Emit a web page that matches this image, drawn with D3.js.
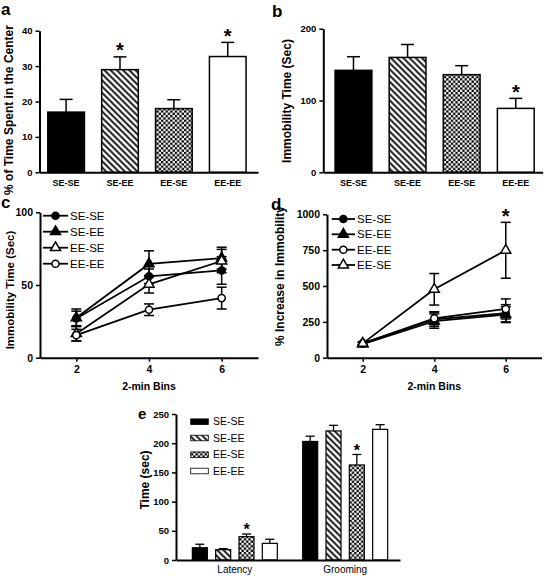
<!DOCTYPE html>
<html><head><meta charset="utf-8">
<script src="https://cdn.jsdelivr.net/npm/d3@7"></script>
<style>body{margin:0;background:#fff} text{font-family:"Liberation Sans",Arial,sans-serif;fill:#000}</style>
</head><body><svg id="c" width="545" height="576"></svg>
<script>
// ---------- data ----------
const groups = ["SE-SE","SE-EE","EE-SE","EE-EE"];
// panel a
const centerTime = [17, 29, 18, 32.7];
const centerErr = [3.6, 3.6, 2.5, 4.0];
const centerSig = [false, true, false, true];
const centerTicks = [0,10,20,30,40];
// panel b
const immobility = [142, 160, 136, 89];
const immobilityErr = [19, 18, 12.5, 14];
const immobilitySig = [false, false, false, true];
const immobilityTicks = [0,100,200];
// panel c
const bins = [2,4,6];
const binSeriesC = ["SE-SE","SE-EE","EE-SE","EE-EE"];
const binTimeC = [[27,56,60],[27.5,64.5,68.5],[16.5,50.5,66.5],[15.5,33,41]];
const binErrC  = [[5,5,9.5],[6,9,7.5],[5,6,8],[4,4,7.5]];
const binTicksC = [0,50,100];
// panel d
const binSeriesD = ["SE-SE","SE-EE","EE-EE","EE-SE"];
const increaseD = [[100,268,310],[95,255,300],[100,275,340],[100,477,749]];
const increaseErrD = [[10,50,60],[10,50,55],[10,45,70],[10,110,195]];
const increaseSigD = [[false,false,false],[false,false,false],[false,false,false],[false,false,true]];
const binTicksD = [0,250,500,750,1000];
// panel e
const measures = ["Latency","Grooming"];
const latency = [21, 17.7, 40, 28.5];
const latencyErr = [6, 1.7, 4.5, 7];
const grooming = [203, 221, 162.7, 223.7];
const groomingErr = [9, 9.6, 18, 8];
const latencySig = [false,false,true,false];
const groomingSig = [false,false,true,false];
const timeTicks = [0,50,100,150,200,250];

// ---------- setup ----------
const svg = d3.select("#c");
const defs = svg.append("defs");
const hp = defs.append("pattern").attr("id","hatch").attr("patternUnits","userSpaceOnUse")
  .attr("width",4.4).attr("height",4.4).attr("patternTransform","rotate(-45)");
hp.append("rect").attr("width",4.4).attr("height",4.4).attr("fill","#fff");
hp.append("line").attr("x1",2.2).attr("x2",2.2).attr("y1",0).attr("y2",4.4).attr("stroke","#000").attr("stroke-width",1.8);
const cp = defs.append("pattern").attr("id","check").attr("patternUnits","userSpaceOnUse")
  .attr("width",4.6).attr("height",4.6);
cp.append("rect").attr("width",4.6).attr("height",4.6).attr("fill","#fff");
cp.append("rect").attr("width",2.3).attr("height",2.3).attr("fill","#000");
cp.append("rect").attr("x",2.3).attr("y",2.3).attr("width",2.3).attr("height",2.3).attr("fill","#000");
const fills = ["#000","url(#hatch)","url(#check)","#fff"];

function styleAxis(g, fs, bold){
  g.select(".domain").attr("stroke","#000").attr("stroke-width",2);
  g.selectAll(".tick line").attr("stroke","#000").attr("stroke-width",1.5);
  g.selectAll(".tick text").attr("font-size",fs).attr("font-weight",bold?"bold":"normal")
    .attr("font-family","Liberation Sans, Arial, sans-serif").attr("fill","#000");
}
function star(g, x, yTop, gap, fs){
  g.append("text").attr("x",x).attr("y",yTop-gap+0.58*fs).attr("text-anchor","middle")
   .attr("font-size",fs).attr("font-weight","bold").text("*");
}
function vlabel(x, y, txt, fs){
  svg.append("text").attr("transform",`translate(${x},${y}) rotate(-90)`).attr("text-anchor","middle")
    .attr("dy","0.35em").attr("font-size",fs).attr("font-weight","bold").text(txt);
}
function plabel(x, y, txt, fs){
  svg.append("text").attr("x",x).attr("y",y).attr("font-size",fs).attr("font-weight","bold").text(txt);
}

// ---------- bar panels a, b ----------
function barPanel(o){
  const g = svg.append("g");
  const x = d3.scaleBand().domain(groups).range(o.xr).paddingInner(0.32).paddingOuter(0.1877).align(o.align);
  const y = d3.scaleLinear().domain(o.yd).range(o.yr);
  groups.forEach((k,i)=>{
    const cx = x(k)+x.bandwidth()/2, yt = y(o.vals[i]+o.errs[i]);
    g.append("line").attr("x1",cx).attr("x2",cx).attr("y1",y(o.vals[i])).attr("y2",yt).attr("stroke","#000").attr("stroke-width",1.5);
    g.append("line").attr("x1",cx-6.5).attr("x2",cx+6.5).attr("y1",yt).attr("y2",yt).attr("stroke","#000").attr("stroke-width",1.5);
    if(o.sig[i]) star(g, cx, yt, 11, 20);
  });
  g.selectAll("rect.bar").data(o.vals).join("rect").attr("class","bar")
    .attr("x",(d,i)=>x(groups[i])).attr("width",x.bandwidth())
    .attr("y",d=>y(d)).attr("height",d=>y(0)-y(d))
    .attr("fill",(d,i)=>fills[i]).attr("stroke","#000").attr("stroke-width",1.5);
  const ya = g.append("g").attr("transform",`translate(${o.xr[0]},0)`)
    .call(d3.axisLeft(y).tickValues(o.ticks).tickSize(4).tickSizeOuter(0).tickPadding(3).tickFormat(d3.format("d")));
  styleAxis(ya, 9.5, true);
  const xa = g.append("g").attr("transform",`translate(0,${o.yr[0]})`)
    .call(d3.axisBottom(x).tickSize(0).tickSizeOuter(0).tickPadding(7.5));
  styleAxis(xa, 9, true);
}
barPanel({xr:[39.5,258], align:0.41, yd:[0,40], yr:[172.3,30.7], vals:centerTime, errs:centerErr, sig:centerSig, ticks:centerTicks});
barPanel({xr:[323.3,542.7], align:0.58, yd:[0,200], yr:[172.3,28.7], vals:immobility, errs:immobilityErr, sig:immobilitySig, ticks:immobilityTicks});
plabel(1,15,"a",17); plabel(272,17,"b",17);
vlabel(9,110,"% of Time Spent in the Center",12);
vlabel(287,101,"Immobility Time (Sec)",12);

// ---------- line panels c, d ----------
const symFor = {"SE-SE":[d3.symbolCircle,true],"SE-EE":[d3.symbolTriangle,true],"EE-SE":[d3.symbolTriangle,false],"EE-EE":[d3.symbolCircle,false]};
function marker(g, name, cx, cy){
  const [t, filled] = symFor[name];
  g.append("path").attr("d", d3.symbol().type(t).size(t===d3.symbolCircle?40:44)())
    .attr("transform",`translate(${cx},${cy})`)
    .attr("fill", filled?"#000":"#fff").attr("stroke","#000").attr("stroke-width",1.5);
}
function linePanel(o){
  const g = svg.append("g");
  const x = d3.scaleLinear().domain([1,7]).range(o.xr);
  const y = d3.scaleLinear().domain(o.yd).range(o.yr);
  const line = d3.line().x((d,i)=>x(bins[i])).y(d=>y(d));
  o.vals.forEach(v=>{
    g.append("path").attr("d",line(v)).attr("fill","none").attr("stroke","#000").attr("stroke-width",1.8);
  });
  o.vals.forEach((v,s)=>{
    v.forEach((d,i)=>{
      const cx = x(bins[i]), e = o.errs[s][i];
      g.append("line").attr("x1",cx).attr("x2",cx).attr("y1",y(d-e)).attr("y2",y(d+e)).attr("stroke","#000").attr("stroke-width",1.5);
      [d-e,d+e].forEach(w=>g.append("line").attr("x1",cx-5).attr("x2",cx+5).attr("y1",y(w)).attr("y2",y(w)).attr("stroke","#000").attr("stroke-width",1.5));
      if(o.sig && o.sig[s][i]) star(g, cx, y(d+e), 11, 20);
    });
  });
  o.vals.forEach((v,s)=>v.forEach((d,i)=>marker(g, o.names[s], x(bins[i]), y(d))));
  const ya = g.append("g").attr("transform",`translate(${o.xr[0]},0)`)
    .call(d3.axisLeft(y).tickValues(o.ticks).tickSize(4).tickSizeOuter(0).tickPadding(3).tickFormat(d3.format("d")));
  styleAxis(ya, 10.5, true);
  const xa = g.append("g").attr("transform",`translate(0,${o.yr[0]})`)
    .call(d3.axisBottom(x).tickValues(bins).tickSize(4).tickSizeOuter(0).tickPadding(4).tickFormat(d3.format("d")));
  styleAxis(xa, 10.5, true);
  o.names.forEach((n,i)=>{
    const ly = o.ly[i];
    g.append("line").attr("x1",o.lx[0]).attr("x2",o.lx[1]).attr("y1",ly).attr("y2",ly).attr("stroke","#000").attr("stroke-width",1.8);
    marker(g, n, (o.lx[0]+o.lx[1])/2, ly);
    g.append("text").attr("x",o.lx[1]+2).attr("y",ly).attr("dy","0.35em").attr("font-size",11.5).text(n);
  });
  g.append("text").attr("x",(x(2)+x(6))/2).attr("y",o.yr[0]+29).attr("dy","0.35em").attr("text-anchor","middle")
    .attr("font-size",10.5).attr("font-weight","bold").text("2-min Bins");
}
linePanel({xr:[40,258], yd:[0,100], yr:[357.7,212.3], vals:binTimeC, errs:binErrC, names:binSeriesC, ticks:binTicksC,
  lx:[43,68], ly:[215.7,231.7,247.7,263.7]});
linePanel({xr:[327,541.5], yd:[0,1000], yr:[357.7,214.3], vals:increaseD, errs:increaseErrD, sig:increaseSigD, names:binSeriesD, ticks:binTicksD,
  lx:[331.7,355], ly:[219,234.3,249.7,265]});
plabel(1,208,"c",17); plabel(271,210,"d",17);
vlabel(10,290,"Immobility Time (Sec)",11.5);
vlabel(280,276,"% Increase in Immobility",12);

// ---------- panel e ----------
(function(){
  const g = svg.append("g");
  const x0 = d3.scaleBand().domain(measures).range([176,400]).paddingInner(0.23).paddingOuter(0.13).align(0.57);
  const x1 = d3.scaleBand().domain(groups).range([0,x0.bandwidth()]).paddingInner(0.357).paddingOuter(0);
  const y = d3.scaleLinear().domain([0,250]).range([560,414]);
  const vals = [latency, grooming], errs = [latencyErr, groomingErr], sigs = [latencySig, groomingSig];
  measures.forEach((m,mi)=>{
    groups.forEach((k,i)=>{
      const bx = x0(m)+x1(k), cx = bx + x1.bandwidth()/2;
      const v = vals[mi][i], yt = y(v+errs[mi][i]);
      g.append("line").attr("x1",cx).attr("x2",cx).attr("y1",y(v)).attr("y2",yt).attr("stroke","#000").attr("stroke-width",1.3);
      g.append("line").attr("x1",cx-4.5).attr("x2",cx+4.5).attr("y1",yt).attr("y2",yt).attr("stroke","#000").attr("stroke-width",1.3);
      g.append("rect").attr("x",bx).attr("width",x1.bandwidth()).attr("y",y(v)).attr("height",y(0)-y(v))
        .attr("fill",fills[i]).attr("stroke","#000").attr("stroke-width",1.2);
      if(sigs[mi][i]) star(g, cx, yt, 8, 16);
    });
  });
  const ya = g.append("g").attr("transform","translate(176,0)")
    .call(d3.axisLeft(y).tickValues(timeTicks).tickSize(4).tickSizeOuter(0).tickPadding(3).tickFormat(d3.format("d")));
  styleAxis(ya, 9.5, true);
  const xa = g.append("g").attr("transform","translate(0,560)")
    .call(d3.axisBottom(x0).tickSize(0).tickSizeOuter(0).tickPadding(6));
  styleAxis(xa, 10, false);
  groups.forEach((k,i)=>{
    const ly = [421.7,438,454.7,471][i];
    g.append("rect").attr("x",190.7).attr("y",ly-2.8).attr("width",17.6).attr("height",5.6)
      .attr("fill",fills[i]).attr("stroke","#000").attr("stroke-width",0.8);
    g.append("text").attr("x",213).attr("y",ly).attr("dy","0.35em").attr("font-size",10.5).text(k);
  });
  plabel(138,419,"e",15);
  vlabel(145,480,"Time (sec)",12);
})();
</script></body></html>
